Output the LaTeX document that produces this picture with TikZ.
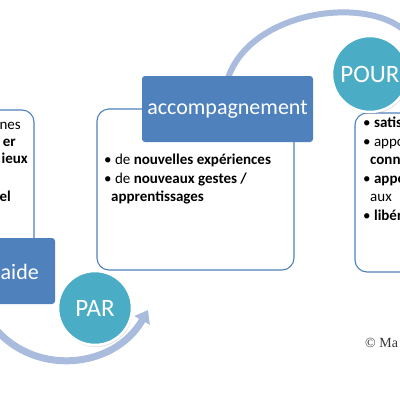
\documentclass[tikz,border=0pt]{standalone}
\usepackage{fontspec}
\setmainfont{Carlito}
\newfontfamily\copyfont{Liberation Serif}
\usetikzlibrary{arrows.meta,shadows}
\definecolor{boxblue}{HTML}{4F81BD}
\definecolor{circteal}{HTML}{4BACC6}
\definecolor{arcblue}{HTML}{AABCDE}
\begin{document}
\begin{tikzpicture}[x=1pt,y=-1pt]
      \tikzset{panel/.style={draw=boxblue,
          line width=1.1pt,
          fill=white,
          rounded corners=12pt},
        headbox/.style={fill=boxblue,
          rounded corners=3pt},
        bubble/.style={circle,
          fill=circteal,
          draw=white,
          line width=2.5pt,
          minimum size=#1,
          text=white,
          font=\fontsize{25}{30}\selectfont,
          drop shadow={opacity=0.25,shadow xshift=1pt,shadow yshift=-2pt}},
        band/.style={draw=arcblue,
          line width=#1},
        bodytext/.style={font=\fontsize{15}{18.5}\selectfont,
          align=left,
          inner sep=0pt}
      }
      \useasboundingbox (0,0) rectangle (400,400);

      \coordinate (arcA) at (228,78);
      \coordinate (arcB) at (410,36);
      \coordinate (arrowA) at (-10,322);
      \coordinate (arrowB) at (148,310);
      \draw [band=6pt] (arcA) .. controls (252,8) and (375,-6) .. (arcB);
      \draw [band=7pt, -{Triangle[width=17pt,length=12pt]}]
      (arrowA) .. controls (30,378) and (114,370) .. (arrowB);

      \node [panel, minimum width=64, minimum height=140] (leftpanel) at (2,180) {};
      \node [headbox, minimum width=115, minimum height=66] (aidebox) at (-2.5,271) {};
      \node [text=white, font=\fontsize{22}{26}\selectfont, anchor=west, inner sep=0pt] (aide) at (0.5,272) {aide};
      \node [bodytext, anchor=base east] (l1) at (21,129) {nes};
      \node [bodytext, anchor=base east] (l2) at (16,146) {\textbf{er}};
      \node [bodytext, anchor=base east] (l3) at (28,163) {\textbf{ieux}};
      \node [bodytext, anchor=base east] (l4) at (11,201) {\textbf{el}};

      \node [panel, minimum width=197, minimum height=161] (midpanel) at (195.5,189.5) {};
      \node [headbox, minimum width=171, minimum height=66] (accbox) at (227.5,109) {};
      \node [text=white, font=\fontsize{22}{26}\selectfont] (acc) at (accbox) {accompagnement};
      \node [bodytext, anchor=north west] (midtext) at (104,154)
      {\textbullet\ de \textbf{nouvelles expériences}\\
        \textbullet\ de \textbf{nouveaux gestes /}\\
        \hspace*{7pt}\textbf{apprentissages}};

      \node [panel, minimum width=105, minimum height=159] (rightpanel) at (407.5,192.5) {};
      \node [bodytext, anchor=north west] (righttext) at (363,117)
      {\textbullet\ \textbf{satis}\\
        \textbullet\ appo\\
        \hspace*{7pt}\textbf{conn}\\
        \textbullet\ \textbf{appo}\\
        \hspace*{7pt}aux\\
        \textbullet\ \textbf{libér}};

      \node [bubble=74pt] (par) at (95,308) {PAR};
      \node [bubble=76pt] (pour) at (370,74) {POUR};

      \node [font=\copyfont\fontsize{14}{16}\selectfont, text=black!80, anchor=base west, inner sep=0pt] (copy) at (365,347) {© Ma};
    \end{tikzpicture}
\end{document}
